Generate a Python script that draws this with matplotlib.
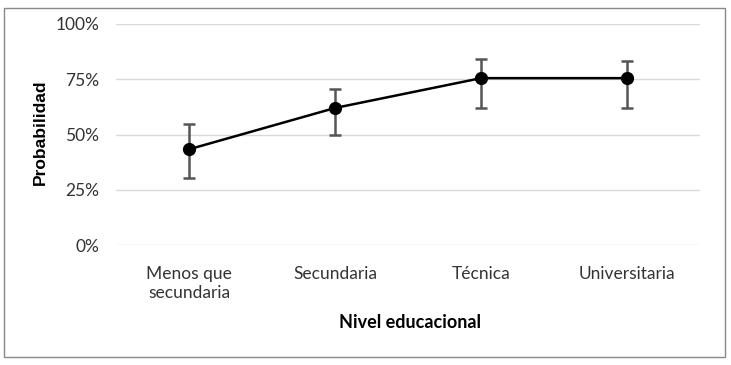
import matplotlib
matplotlib.use("Agg")
import matplotlib.pyplot as plt
from matplotlib.patches import Rectangle

categories = ["Menos que\nsecundaria", "Secundaria", "Técnica", "Universitaria"]
prob = [43.3, 62.0, 75.5, 75.5]
lower = [30.2, 49.8, 62.2, 62.2]
upper = [54.9, 70.7, 84.3, 83.3]
yticks = [0, 25, 50, 75, 100]
ytick_labels = ["0%", "25%", "50%", "75%", "100%"]

plt.rcParams['font.family'] = ['Lato', 'DejaVu Sans']

W, H = 731, 365
fig = plt.figure(figsize=(W/100, H/100), dpi=100)
fig.patches.append(Rectangle((4/W, 8/H), 721/W, 349/H, transform=fig.transFigure,
                             fill=False, edgecolor="#888888", linewidth=1.0))

ax = fig.add_axes([116/W, 1-245/H, (700-116)/W, (245-24)/H])
x = list(range(len(categories)))
yerr = [[p - l for p, l in zip(prob, lower)], [u - p for p, u in zip(prob, upper)]]
ax.errorbar(x, prob, yerr=yerr, fmt='none', ecolor="#555555", elinewidth=1.8,
            capsize=4.5, capthick=1.8, zorder=3)
ax.plot(x, prob, color="black", linewidth=1.8, marker='o', markersize=8.5, zorder=4)

ax.set_xlim(-0.5, 3.5)
ax.set_ylim(0, 100)
ax.set_yticks(yticks)
ax.set_yticklabels(ytick_labels, fontsize=12.5, color="#333333")
ax.set_xticks(x)
ax.set_xticklabels(categories, fontsize=12.5, color="#333333", linespacing=1.25)
ax.tick_params(axis='both', length=0)
ax.tick_params(axis='x', pad=15)
ax.tick_params(axis='y', pad=12)
ax.grid(axis='y', color="#d9d9d9", linewidth=1.0)
ax.set_axisbelow(True)
for s in ax.spines.values():
    s.set_visible(False)

fig.text(40/W, 1-132/H, "Probabilidad", rotation=90, ha='center', va='center',
         fontsize=12.5, fontweight='bold', color="black", family=['Liberation Sans'])
fig.text(410/W, 1-322/H, "Nivel educacional", ha='center', va='center',
         fontsize=13, fontweight='bold', color="black")

fig.savefig("out.png", dpi=100)
